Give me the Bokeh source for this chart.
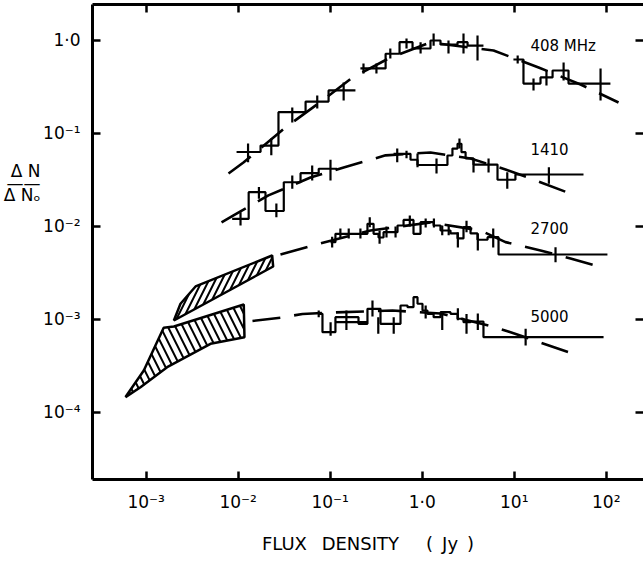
from bokeh.plotting import figure
from bokeh.models import LogAxis, FixedTicker, CustomJSTickFormatter, Label
from bokeh.embed import file_html
from bokeh.resources import INLINE

# ---------------- data ----------------
decade_ticks_x = [1e-3, 1e-2, 1e-1, 1.0, 1e1, 1e2]
decade_ticks_y = [1e-4, 1e-3, 1e-2, 1e-1, 1.0]

# 408 MHz
curve408_x = [0.00785, 0.0114, 0.0327, 0.0824, 0.1746, 0.452, 1.23, 5.96, 18.4, 52.6, 136]
curve408_y = [0.037, 0.0486, 0.1158, 0.226, 0.40, 0.656, 0.952, 0.78, 0.512, 0.336, 0.215]
h408a_edges = [0.0096, 0.0175, 0.0274, 0.054, 0.096, 0.188]
h408a_vals = [0.063, 0.074, 0.169, 0.22, 0.29]
h408b_edges = [0.213, 0.40, 0.567, 0.785, 1.23, 1.58, 2.42, 3.11, 4.63]
h408b_vals = [0.5, 0.72, 0.96, 0.82, 1.0, 0.905, 0.96, 0.88]
h408c_edges = [9.8, 12.6, 19.3, 26.1, 38.9, 111]
h408c_vals = [0.624, 0.344, 0.40, 0.475, 0.344]
err408_x = [0.0128, 0.0229, 0.0387, 0.0723, 0.14, 0.23, 0.318, 0.45, 0.675, 0.96, 1.33, 1.93, 2.81, 3.99, 10.9, 16.2, 22.4, 34.4, 86.7]
err408_lo = [0.049, 0.058, 0.131, 0.185, 0.226, 0.44, 0.44, 0.64, 0.82, 0.724, 0.88, 0.724, 0.724, 0.61, 0.565, 0.29, 0.328, 0.37, 0.226]
err408_hi = [0.078, 0.088, 0.19, 0.256, 0.353, 0.565, 0.565, 0.82, 1.05, 0.955, 1.19, 1.0, 1.19, 1.13, 0.69, 0.39, 0.475, 0.58, 0.5]

# 1410 MHz
curve1410_x = [0.00659, 0.0089, 0.0213, 0.061, 0.14, 0.40, 1.23, 3.35, 8.04, 15.0, 37.9]
curve1410_y = [0.011, 0.0131, 0.0215, 0.0335, 0.043, 0.058, 0.0623, 0.0537, 0.0409, 0.0327, 0.0231]
h1410a_edges = [0.0086, 0.013, 0.0198, 0.0313, 0.0476, 0.075, 0.119]
h1410a_vals = [0.012, 0.0233, 0.0146, 0.0298, 0.0373, 0.0416]
h1410b_edges = [0.488, 0.746, 0.889, 1.88, 2.13, 2.42, 2.67, 2.96, 3.61, 6.58, 10.3, 56.6]
h1410b_vals = [0.0603, 0.052, 0.0457, 0.0578, 0.0687, 0.0773, 0.0628, 0.0537, 0.0462, 0.0317, 0.0361]
err1410_x = [0.0106, 0.0168, 0.026, 0.0387, 0.0637, 0.1007, 0.535, 0.675, 0.889, 1.43, 2.54, 3.61, 5.26, 8.4, 23.8]
err1410_lo = [0.0102, 0.0198, 0.0125, 0.0253, 0.0311, 0.0311, 0.049, 0.054, 0.0433, 0.037, 0.0687, 0.0379, 0.0379, 0.0253, 0.0287]
err1410_hi = [0.0142, 0.0264, 0.0176, 0.0352, 0.045, 0.052, 0.0687, 0.065, 0.0608, 0.0537, 0.088, 0.0537, 0.0537, 0.0382, 0.0433]

# 2700 MHz
curve2700_x = [0.0288, 0.0785, 0.274, 1.23, 4.31, 8.04, 19.3, 40.9, 82.4]
curve2700_y = [0.00497, 0.00653, 0.00901, 0.011, 0.00901, 0.00675, 0.0055, 0.0045, 0.00369]
h2700_edges = [0.1007, 0.114, 0.254, 0.296, 0.335, 0.38, 0.539, 0.627, 0.804, 0.959, 1.33, 1.58, 2.03, 2.42, 2.81, 3.35, 3.99, 5.13, 6.75, 103]
h2700_vals = [0.00675, 0.0083, 0.01064, 0.0083, 0.00757, 0.00863, 0.0102, 0.0117, 0.0083, 0.01107, 0.0102, 0.00901, 0.00837, 0.0074, 0.00977, 0.00837, 0.00716, 0.00763, 0.00497]
err2700_x = [0.105, 0.129, 0.159, 0.213, 0.269, 0.344, 0.409, 0.513, 0.733, 1.09, 1.34, 1.65, 1.94, 2.44, 3.03, 4.02, 5.91, 28.1]
err2700_lo = [0.0059, 0.0074, 0.0074, 0.0074, 0.00977, 0.0065, 0.00757, 0.00757, 0.00995, 0.0097, 0.0097, 0.008, 0.008, 0.0059, 0.00862, 0.0055, 0.0059, 0.00411]
err2700_hi = [0.0077, 0.00946, 0.00946, 0.00946, 0.01253, 0.00901, 0.00995, 0.00995, 0.0131, 0.0121, 0.0121, 0.0102, 0.0102, 0.00863, 0.0115, 0.00837, 0.00946, 0.00596]

# 5000 MHz
curve5000_x = [0.0143, 0.0288, 0.05, 0.106, 0.475, 1.58, 5.26, 8.45, 15.8, 52.6]
curve5000_y = [0.000957, 0.001036, 0.001138, 0.00118, 0.00124, 0.00115, 0.000855, 0.000743, 0.0006, 0.000397]
h5000_edges = [0.0746, 0.0824, 0.114, 0.203, 0.254, 0.352, 0.581, 0.692, 0.804, 0.889, 1.007, 1.14, 1.33, 1.58, 2.03, 2.42, 2.81, 3.35, 4.63, 93.5]
h5000_vals = [0.001143, 0.000725, 0.00105, 0.000891, 0.001294, 0.000891, 0.001403, 0.001346, 0.001725, 0.001465, 0.00124, 0.001143, 0.00105, 0.00119, 0.001143, 0.00101, 0.000929, 0.000944, 0.00064]
h5000b_edges = [0.114, 0.254]
h5000b_vals = [0.00093]
err5000_x = [0.075, 0.101, 0.150, 0.288, 0.333, 0.49, 1.09, 1.65, 2.44, 3.03, 4.02, 13.3]
err5000_lo = [0.00105, 0.000663, 0.000763, 0.00107, 0.000697, 0.000697, 0.00102, 0.000763, 0.000974, 0.000697, 0.000763, 0.000521]
err5000_hi = [0.00124, 0.000929, 0.00124, 0.00159, 0.00105, 0.00105, 0.0014, 0.00119, 0.00131, 0.00114, 0.00115, 0.000788]

# hatched source-count bands at low flux density
band_upper_x = [0.002, 0.00236, 0.00344, 0.0234, 0.024, 0.002]
band_upper_y = [0.000968, 0.001465, 0.00225, 0.00485, 0.00369, 0.000968]
band_lower_x = [0.000596, 0.000942, 0.00155, 0.002, 0.0115, 0.0117, 0.005, 0.00169, 0.000867]
band_lower_y = [0.000145, 0.00028, 0.000807, 0.000834, 0.00144, 0.00064, 0.000543, 0.000304, 0.000185]

series_labels = ["408 MHz", "1410", "2700", "5000"]
series_label_y = [0.862, 0.0679, 0.0096, 0.00108]
series_label_x = 15.0

y_label_text = "\u0394 N\n\u2014\u2014\n\u0394 N\u2092"
y_label_pos = 0.0289
x_label_text = "FLUX\u2002 DENSITY\u2002\u2002\u2002(\u2002Jy\u2002)"

# ---------------- figure ----------------
FONT = "DejaVu Sans"
p = figure(width=643, height=561, x_axis_type="log", y_axis_type="log",
           x_range=(2.61e-4, 254), y_range=(1.88e-5, 2.44),
           output_backend="svg", toolbar_location=None,
           min_border_left=92, min_border_top=4, min_border_right=0, min_border_bottom=82)
p.outline_line_color = None
p.grid.visible = False
p.background_fill_color = "white"

fmt_code = """
const e = Math.round(Math.log10(tick));
if (e === 0) { return "1\u00b70"; }
const sup = {"-": "\u207b", "0": "\u2070", "1": "\u00b9", "2": "\u00b2", "3": "\u00b3", "4": "\u2074", "5": "\u2075"};
return "10" + String(e).split("").map(c => sup[c]).join("");
"""

def style_axis(ax, ticks, line=True):
    ax.ticker = FixedTicker(ticks=ticks)
    ax.minor_tick_line_color = None
    ax.major_tick_in = 8
    ax.major_tick_out = 0
    ax.major_tick_line_width = 2.5
    ax.major_tick_line_color = "black"
    ax.axis_line_width = 3
    ax.axis_line_color = "black" if line else None

xa = p.below[0]
style_axis(xa, decade_ticks_x)
xa.formatter = CustomJSTickFormatter(code=fmt_code)
xa.major_label_text_font = FONT
xa.major_label_text_font_size = "17px"
xa.major_label_text_color = "black"
xa.major_label_standoff = 12
xa.axis_label = x_label_text
xa.axis_label_text_font = FONT
xa.axis_label_text_font_size = "18px"
xa.axis_label_text_font_style = "normal"
xa.axis_label_text_color = "black"
xa.axis_label_standoff = 18

ya = p.left[0]
style_axis(ya, decade_ticks_y)
ya.formatter = CustomJSTickFormatter(code=fmt_code)
ya.major_label_text_font = FONT
ya.major_label_text_font_size = "17px"
ya.major_label_text_color = "black"
ya.major_label_standoff = 12

# fraction-style y label, carried by an extra left axis with a single tick
ylab_ax = LogAxis(ticker=FixedTicker(ticks=[y_label_pos]),
                  formatter=CustomJSTickFormatter(code="return %r;" % y_label_text),
                  major_tick_in=0, major_tick_out=0, minor_tick_line_color=None,
                  axis_line_color=None, major_label_standoff=0,
                  major_label_text_font=FONT, major_label_text_font_size="17px",
                  major_label_text_color="black", major_label_text_line_height=0.6)
p.add_layout(ylab_ax, "left")

empty = CustomJSTickFormatter(code="return '';")
top_ax = LogAxis(formatter=empty, major_label_standoff=0, major_label_text_font_size="0px")
style_axis(top_ax, decade_ticks_x)
p.add_layout(top_ax, "above")
right_ax = LogAxis(formatter=CustomJSTickFormatter(code="return '';"), major_label_standoff=0,
                   major_label_text_font_size="0px")
style_axis(right_ax, decade_ticks_y, line=False)
p.add_layout(right_ax, "right")

# hatched bands
p.patch(band_lower_x, band_lower_y, fill_alpha=0, line_color="black", line_width=2.5,
        hatch_pattern="left_diagonal_line", hatch_color="black", hatch_weight=2, hatch_scale=15)
p.patch(band_upper_x, band_upper_y, fill_alpha=0, line_color="black", line_width=2.5,
        hatch_pattern="right_diagonal_line", hatch_color="black", hatch_weight=2, hatch_scale=13)

DASH = "28 14"
for cx, cy in [(curve408_x, curve408_y), (curve1410_x, curve1410_y),
               (curve2700_x, curve2700_y), (curve5000_x, curve5000_y)]:
    p.line(cx, cy, line_color="black", line_width=2.6, line_dash=DASH)

for edges, vals in [(h408a_edges, h408a_vals), (h408b_edges, h408b_vals), (h408c_edges, h408c_vals),
                    (h1410a_edges, h1410a_vals), (h1410b_edges, h1410b_vals),
                    (h2700_edges, h2700_vals), (h5000_edges, h5000_vals), (h5000b_edges, h5000b_vals)]:
    p.step(edges, list(vals) + [vals[-1]], mode="after", line_color="black", line_width=2.2)

for ex, lo, hi in [(err408_x, err408_lo, err408_hi), (err1410_x, err1410_lo, err1410_hi),
                   (err2700_x, err2700_lo, err2700_hi), (err5000_x, err5000_lo, err5000_hi)]:
    p.segment(ex, lo, ex, hi, line_color="black", line_width=2.2)

for txt, yy in zip(series_labels, series_label_y):
    p.add_layout(Label(x=series_label_x, y=yy, text=txt, text_font=FONT, text_font_size="15px",
                       text_baseline="middle", text_align="left", text_color="black"))

open("out.html", "w").write(file_html(p, INLINE))
